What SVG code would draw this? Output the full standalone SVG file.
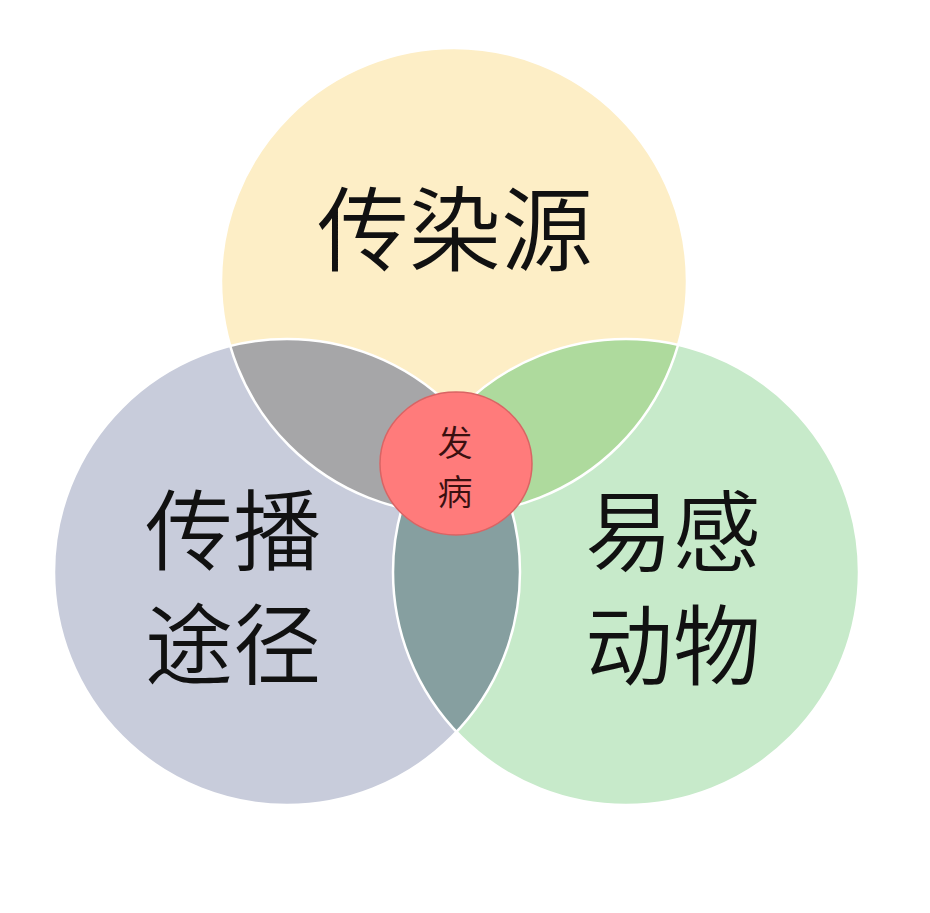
<svg xmlns="http://www.w3.org/2000/svg" width="930" height="913" viewBox="0 0 930 913">
  <style>
    .big { font-family: "Noto Sans CJK SC", "Noto Sans CJK TC", sans-serif; font-weight: 350; fill: #111111; text-anchor: middle; dominant-baseline: central; }
    .t { font-size: 92px; }
    .s { font-size: 88px; }
    .small { font-family: "Noto Sans CJK SC", "Noto Sans CJK TC", sans-serif; font-weight: 350; font-size: 35px; fill: #3a1010; text-anchor: middle; dominant-baseline: central; }
    .edge { fill: none; stroke: #ffffff; stroke-width: 2.5; }
  </style>
  <defs>
    <clipPath id="cTop"><circle cx="454" cy="281" r="233"/></clipPath>
    <clipPath id="cLeft"><circle cx="287" cy="572" r="233"/></clipPath>
  </defs>
  <rect width="930" height="913" fill="#ffffff"/>
  <g id="node-top">
    <circle cx="454" cy="281" r="233" fill="#FDEEC6"/>
  </g>
  <g id="node-left">
    <circle cx="287" cy="572" r="233" fill="#C8CCDB"/>
  </g>
  <g id="node-right">
    <circle cx="626" cy="572" r="233" fill="#C7EACA"/>
  </g>
  <g id="overlaps">
    <g clip-path="url(#cTop)">
      <circle cx="287" cy="572" r="233" fill="#A6A6A8"/>
      <circle cx="626" cy="572" r="233" fill="#AEDA9D"/>
    </g>
    <g clip-path="url(#cLeft)">
      <circle cx="626" cy="572" r="233" fill="#869FA0"/>
    </g>
  </g>
  <g id="outlines">
    <circle class="edge" cx="454" cy="281" r="233"/>
    <circle class="edge" cx="287" cy="572" r="233"/>
    <circle class="edge" cx="626" cy="572" r="233"/>
  </g>
  <g id="labels-top">
    <text class="big t" x="455" y="223">传染源</text>
  </g>
  <g id="labels-left">
    <text class="big s" x="233" y="524">传播</text>
    <text class="big s" x="233" y="638">途径</text>
  </g>
  <g id="labels-right">
    <text class="big s" x="673" y="525">易感</text>
    <text class="big s" x="673" y="639">动物</text>
  </g>
  <g id="node-center">
    <ellipse cx="456" cy="463.5" rx="76" ry="71.5" fill="#FF7B7B" stroke="#D96464" stroke-width="1.5"/>
    <text class="small" x="455" y="440">发</text>
    <text class="small" x="455" y="489">病</text>
  </g>
</svg>
